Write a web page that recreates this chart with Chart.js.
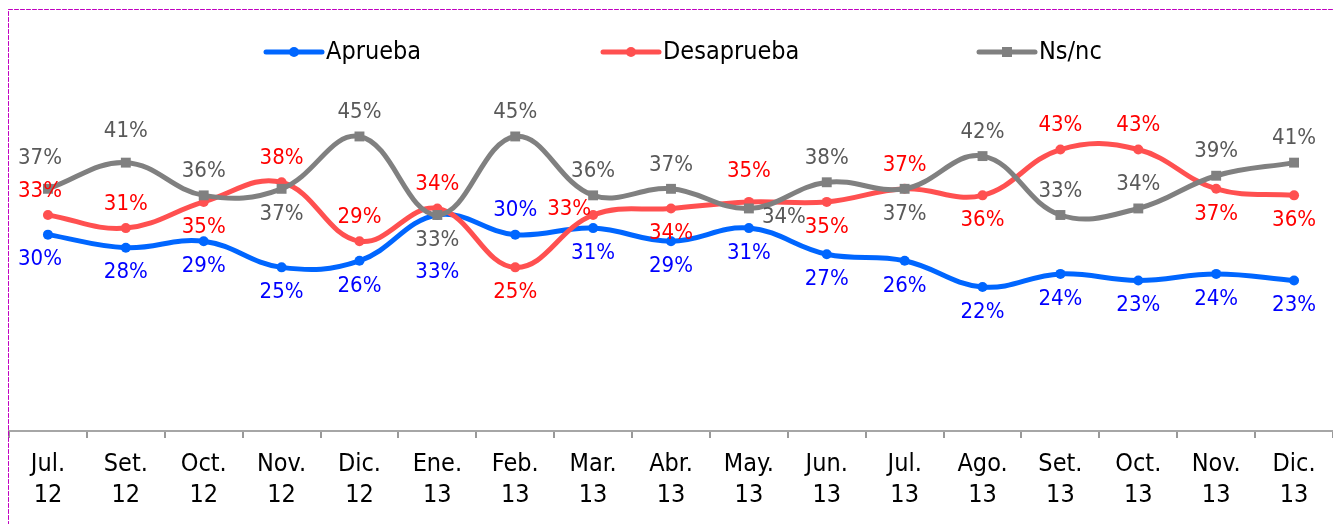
<!DOCTYPE html>
<html>
<head>
<meta charset="utf-8">
<script src="https://cdn.jsdelivr.net/npm/chart.js@4.4.1/dist/chart.umd.min.js"></script>
<style>
  html, body { margin: 0; padding: 0; background: #fff; overflow: hidden; }
  #wrap { width: 1333px; height: 524px; position: relative; }
</style>
</head>
<body>
<div id="wrap"><canvas id="chart"></canvas></div>
<script>
const months = [
    ['Jul.', '12'], ['Set.', '12'], ['Oct.', '12'], ['Nov.', '12'], ['Dic.', '12'],
    ['Ene.', '13'], ['Feb.', '13'], ['Mar.', '13'], ['Abr.', '13'], ['May.', '13'],
    ['Jun.', '13'], ['Jul.', '13'], ['Ago.', '13'], ['Set.', '13'], ['Oct.', '13'],
    ['Nov.', '13'], ['Dic.', '13']
]

const aprueba    = [30, 28, 29, 25, 26, 33, 30, 31, 29, 31, 27, 26, 22, 24, 23, 24, 23]
const desaprueba = [33, 31, 35, 38, 29, 34, 25, 33, 34, 35, 35, 37, 36, 43, 43, 37, 36]
const nsnc       = [37, 41, 36, 37, 45, 33, 45, 36, 37, 34, 38, 37, 42, 33, 34, 39, 41]

// where each value label sits: t = above, T = far above, b = below, B = far below, l = left, r = right
const apruebaPos    = ['b','b','b','b','b','B','t','b','b','b','b','b','b','b','b','b','b']
const desapruebaPos = ['t','t','b','t','t','t','b','l','b','T','b','t','b','t','t','b','b']
const nsncPos       = ['T','T','t','b','t','b','t','t','t','r','t','b','t','t','t','t','t']

const FONT = '"DejaVu Sans Condensed", "DejaVu Sans", sans-serif'

const pointLabels = {
    id: 'pointLabels',
    afterDatasetsDraw(chart) {
        const ctx = chart.ctx;
        ctx.save();
        ctx.font = '22px ' + FONT;
        ctx.textBaseline = 'middle';
        chart.data.datasets.forEach((ds, i) => {
            const meta = chart.getDatasetMeta(i);
            meta.data.forEach((pt, j) => {
                const pos = ds.labelPos[j];
                let x = pt.x, y = pt.y, align = 'center';
                if (pos === 't') y -= 24;
                else if (pos === 'T') y -= 31;
                else if (pos === 'b') y += 25;
                else if (pos === 'B') y += 57;
                else if (pos === 'l') { x -= 2; y -= 6; align = 'right'; }
                else if (pos === 'r') { x += 13; y += 9; align = 'left'; }
                // first column labels sit a bit to the left in the original
                if (j === 0) x -= 8;
                ctx.textAlign = align;
                ctx.fillStyle = ds.labelColor;
                ctx.fillText(ds.data[j] + '%', x, y);
            });
        });
        ctx.restore();
    }
}

const legendAndFrame = {
    id: 'legendAndFrame',
    afterDraw(chart) {
        const ctx = chart.ctx;
        ctx.save();
        // legend: line sample with marker, then the name
        const starts = [266, 603, 979];
        chart.data.datasets.forEach((ds, i) => {
            const x0 = starts[i], y = 52, len = 56;
            ctx.strokeStyle = ds.borderColor;
            ctx.fillStyle = ds.borderColor;
            ctx.lineWidth = 5;
            ctx.lineCap = 'round';
            ctx.beginPath();
            ctx.moveTo(x0, y);
            ctx.lineTo(x0 + len, y);
            ctx.stroke();
            const cx = x0 + len / 2;
            if (ds.pointStyle === 'rect') {
                ctx.fillRect(cx - 5, y - 5, 10, 10);
            } else {
                ctx.beginPath();
                ctx.arc(cx, y, 5, 0, Math.PI * 2);
                ctx.fill();
            }
            ctx.fillStyle = '#000';
            ctx.font = '25px ' + FONT;
            ctx.textBaseline = 'middle';
            ctx.textAlign = 'left';
            ctx.fillText(ds.label, x0 + len + 4, y);
        });
        // dashed frame
        ctx.strokeStyle = '#C000C0';
        ctx.lineWidth = 1;
        ctx.setLineDash([4, 2]);
        ctx.strokeRect(8.5, 9.5, 1400, 1000);
        ctx.restore();
    }
}

function makeDataset(label, data, color, labelColor, pos, style, radius, order) {
    return {
        label: label,
        data: data,
        borderColor: color,
        backgroundColor: color,
        pointBackgroundColor: color,
        pointBorderColor: color,
        borderWidth: 5,
        pointStyle: style,
        pointRadius: radius,
        pointBorderWidth: 0,
        tension: 0.4,
        fill: false,
        order: order,
        labelColor: labelColor,
        labelPos: pos
    }
}

const ctx = document.getElementById('chart');

new Chart(ctx, {
    type: 'line',
    data: {
        labels: months,
        datasets: [
            makeDataset('Aprueba', aprueba, '#0066FF', '#0000FF', apruebaPos, 'circle', 5, 3),
            makeDataset('Desaprueba', desaprueba, '#FF5050', '#FF0000', desapruebaPos, 'circle', 5, 2),
            makeDataset('Ns/nc', nsnc, '#808080', '#595959', nsncPos, 'rect', 7, 1)
        ]
    },
    plugins: [pointLabels, legendAndFrame],
    options: {
        responsive: true,
        maintainAspectRatio: false,
        animation: false,
        devicePixelRatio: 1,
        layout: {
            autoPadding: false,
            padding: { top: 71, left: 9, right: 0, bottom: 0 }
        },
        plugins: {
            legend: { display: false },
            tooltip: { enabled: false }
        },
        scales: {
            x: {
                offset: true,
                grid: {
                    offset: true,
                    drawOnChartArea: false,
                    drawTicks: true,
                    tickLength: 7,
                    color: '#999999',
                    lineWidth: 2
                },
                border: { display: true, color: '#A6A6A6', width: 2 },
                ticks: {
                    color: '#000',
                    font: { family: FONT, size: 25, lineHeight: '31px' },
                    padding: 11,
                    maxRotation: 0,
                    autoSkip: false
                },
                afterFit: (scale) => { scale.height = 93 }
            },
            y: {
                display: false,
                min: 0,
                max: 55
            }
        }
    }
})
</script>
</body>
</html>
